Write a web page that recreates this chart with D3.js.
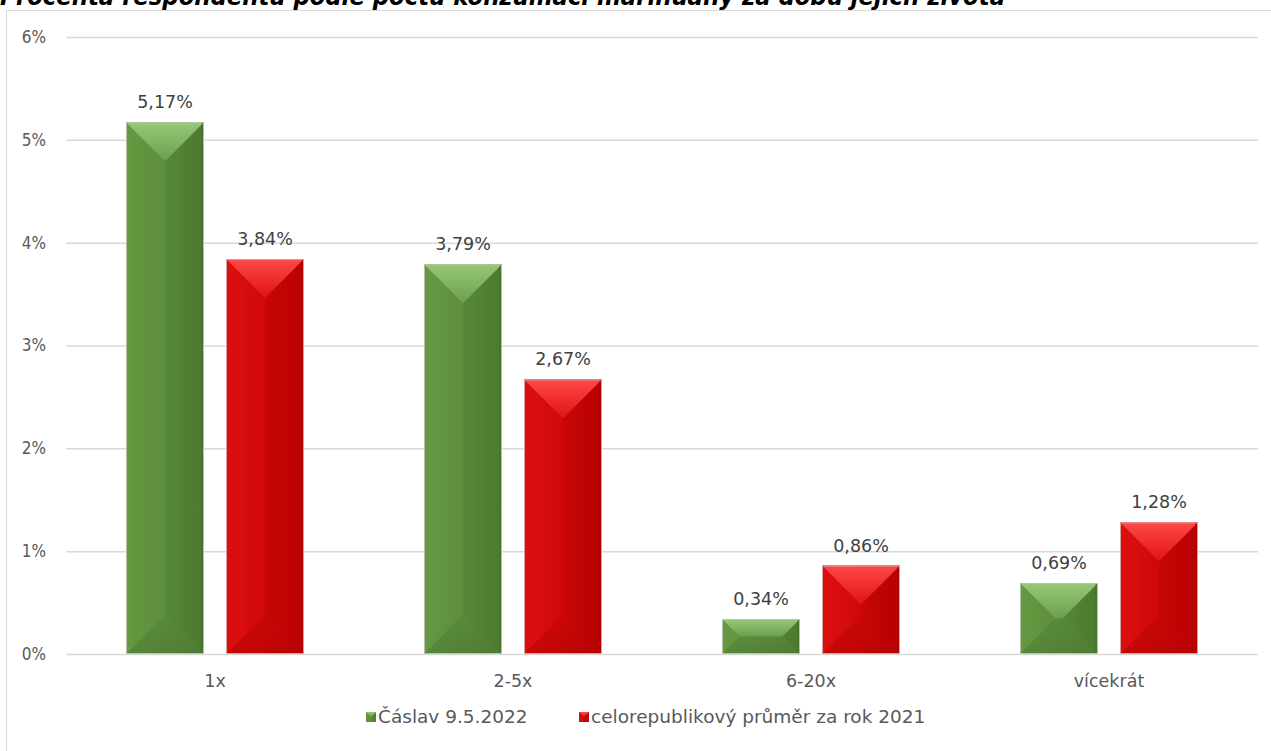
<!DOCTYPE html>
<html><head><meta charset="utf-8">
<script src="https://cdn.jsdelivr.net/npm/d3@7"></script>
<style>
body{margin:0;background:#fff;}
svg{display:block;}
text{font-family:"DejaVu Sans",sans-serif;}
</style></head>
<body>
<svg id="c" width="1271" height="751"></svg>
<script>
const title = "Procenta respondentů podle počtu konzumací marihuany za dobu jejich života";
const categories = ["1x","2-5x","6-20x","vícekrát"];
const seriesNames = ["Čáslav 9.5.2022","celorepublikový průměr za rok 2021"];
const caslav = [5.17,3.79,0.34,0.69];
const republika = [3.84,2.67,0.86,1.28];
const yTicks = [0,1,2,3,4,5,6];

const svg = d3.select("#c");
const W = 1271, H = 751;
const m = {left:66, right:1258, top:37, bottom:654};

const defs = svg.append("defs");
const pal = [
  {id:"g", base:["#64983f","#5b8b3c","#4e7c32"], top:["#96c877","#6e9f4e"], bot:["#4d7a33","#588a3b"], right:"#3f6a26", left:"#6fa24f", stroke:"#b4c4a8"},
  {id:"r", base:["#dc0f0f","#cd0707","#bb0202"], top:["#ff4848","#e01313"], bot:["#b40303","#c80606"], right:"#9a0000", left:"#e31717", stroke:"#d7a2a2"}
];
pal.forEach(p=>{
  const lg = defs.append("linearGradient").attr("id",p.id+"base").attr("x1",0).attr("x2",1).attr("y1",0).attr("y2",0);
  lg.append("stop").attr("offset","0%").attr("stop-color",p.base[0]);
  lg.append("stop").attr("offset","50%").attr("stop-color",p.base[1]);
  lg.append("stop").attr("offset","100%").attr("stop-color",p.base[2]);
  const tg = defs.append("linearGradient").attr("id",p.id+"top").attr("x1",0).attr("x2",0).attr("y1",0).attr("y2",1);
  tg.append("stop").attr("offset","0%").attr("stop-color",p.top[0]);
  tg.append("stop").attr("offset","100%").attr("stop-color",p.top[1]);
  const bg = defs.append("linearGradient").attr("id",p.id+"bot").attr("x1",0).attr("x2",0).attr("y1",0).attr("y2",1);
  bg.append("stop").attr("offset","0%").attr("stop-color",p.bot[1]);
  bg.append("stop").attr("offset","100%").attr("stop-color",p.bot[0]);
});

// frame
svg.append("path").attr("d",`M6.5,${H}V10.5H${W}`).attr("fill","none").attr("stroke","#d9d9d9").attr("stroke-width",1);

// title (partly cut at top, as in the reference)
svg.append("text").attr("x",0).attr("y",5).attr("font-size",24).attr("font-weight","bold").attr("font-style","italic")
  .attr("textLength",1005).attr("lengthAdjust","spacingAndGlyphs")
  .attr("fill","#000").style("font-family","'DejaVu Sans',sans-serif").text(title);

const y = d3.scaleLinear().domain([0,6]).range([m.bottom,m.top]);
const x0 = d3.scaleBand().domain(categories).range([m.left,m.right]).paddingInner(0).paddingOuter(0);
const barW = 78, gap = 22;

// gridlines
const yAxis = d3.axisLeft(y).tickValues(yTicks).tickFormat(d=>d+"%").tickSize(-(m.right-m.left)).tickPadding(20);
const ga = svg.append("g").attr("transform",`translate(${m.left},0)`).call(yAxis);
ga.select(".domain").remove();
ga.selectAll(".tick line").attr("stroke","#d9d9d9").attr("stroke-width",1.5);
ga.selectAll(".tick text").attr("fill","#595959").attr("font-size",17).style("font-family","'DejaVu Sans Condensed','DejaVu Sans',sans-serif");

// x axis labels
const xa = d3.axisBottom(x0).tickSize(0).tickPadding(21);
const gx = svg.append("g").attr("transform",`translate(0,${m.bottom})`).call(xa);
gx.select(".domain").remove();
gx.selectAll(".tick text").attr("fill","#595959").attr("font-size",17.5).style("font-family","'DejaVu Sans',sans-serif");

function bevelBar(g, bx, v, p){
  const x1 = bx, x2 = bx+barW, yt = y(v), yb = y(0);
  const h = yb-yt, d = Math.min(barW/2, h/2);
  const gg = g.append("g");
  gg.append("rect").attr("x",x1).attr("y",yt).attr("width",barW).attr("height",h).attr("fill",`url(#${p.id}base)`);
  gg.append("path").attr("d",`M${x1},${yt}L${x1+d},${yt+d}L${x1+d},${yb-d}L${x1},${yb}Z`).attr("fill",p.left).attr("opacity",0.15);
  gg.append("path").attr("d",`M${x2},${yt}L${x2-d},${yt+d}L${x2-d},${yb-d}L${x2},${yb}Z`).attr("fill",p.right).attr("opacity",0.1);
  gg.append("path").attr("d",`M${x1},${yt}L${x2},${yt}L${x2-d},${yt+d}L${x1+d},${yt+d}Z`).attr("fill",`url(#${p.id}top)`);
  gg.append("path").attr("d",`M${x1},${yb}L${x2},${yb}L${x2-d},${yb-d}L${x1+d},${yb-d}Z`).attr("fill",`url(#${p.id}bot)`).attr("opacity",0.6);
  gg.append("rect").attr("x",x2-3).attr("y",yt).attr("width",3).attr("height",h).attr("fill",p.right).attr("opacity",0.35);
  gg.append("rect").attr("x",x1+0.5).attr("y",yt+0.5).attr("width",barW-1).attr("height",h-1).attr("fill","none").attr("stroke",p.stroke).attr("stroke-width",1);
}

const series = [caslav, republika];
const fmt = v => v.toFixed(2).replace(".",",")+"%";
categories.forEach((c,i)=>{
  const cx = x0(c)+x0.bandwidth()/2;
  series.forEach((s,j)=>{
    const bx = j===0 ? cx-gap/2-barW : cx+gap/2;
    bevelBar(svg, bx, s[i], pal[j]);
    svg.append("text").attr("x",bx+barW/2).attr("y",y(s[i])-14).attr("text-anchor","middle")
      .attr("fill","#404040").attr("font-size",17.5).style("font-family","'DejaVu Sans',sans-serif").text(fmt(s[i]));
  });
});

// legend
const leg = svg.append("g");
const legX = [366, 579];
seriesNames.forEach((n,j)=>{
  const lx = legX[j], ly = 712;
  const p = pal[j];
  const s = 10;
  leg.append("rect").attr("x",lx).attr("y",ly).attr("width",s).attr("height",s).attr("fill",`url(#${p.id}base)`);
  leg.append("path").attr("d",`M${lx},${ly}L${lx+s},${ly}L${lx+s/2},${ly+s/2}Z`).attr("fill",`url(#${p.id}top)`);
  leg.append("text").attr("x",lx+12).attr("y",ly+11).attr("fill","#595959").attr("font-size",18.5)
    .style("font-family","'DejaVu Sans',sans-serif").text(n);
});
</script>
</body></html>
